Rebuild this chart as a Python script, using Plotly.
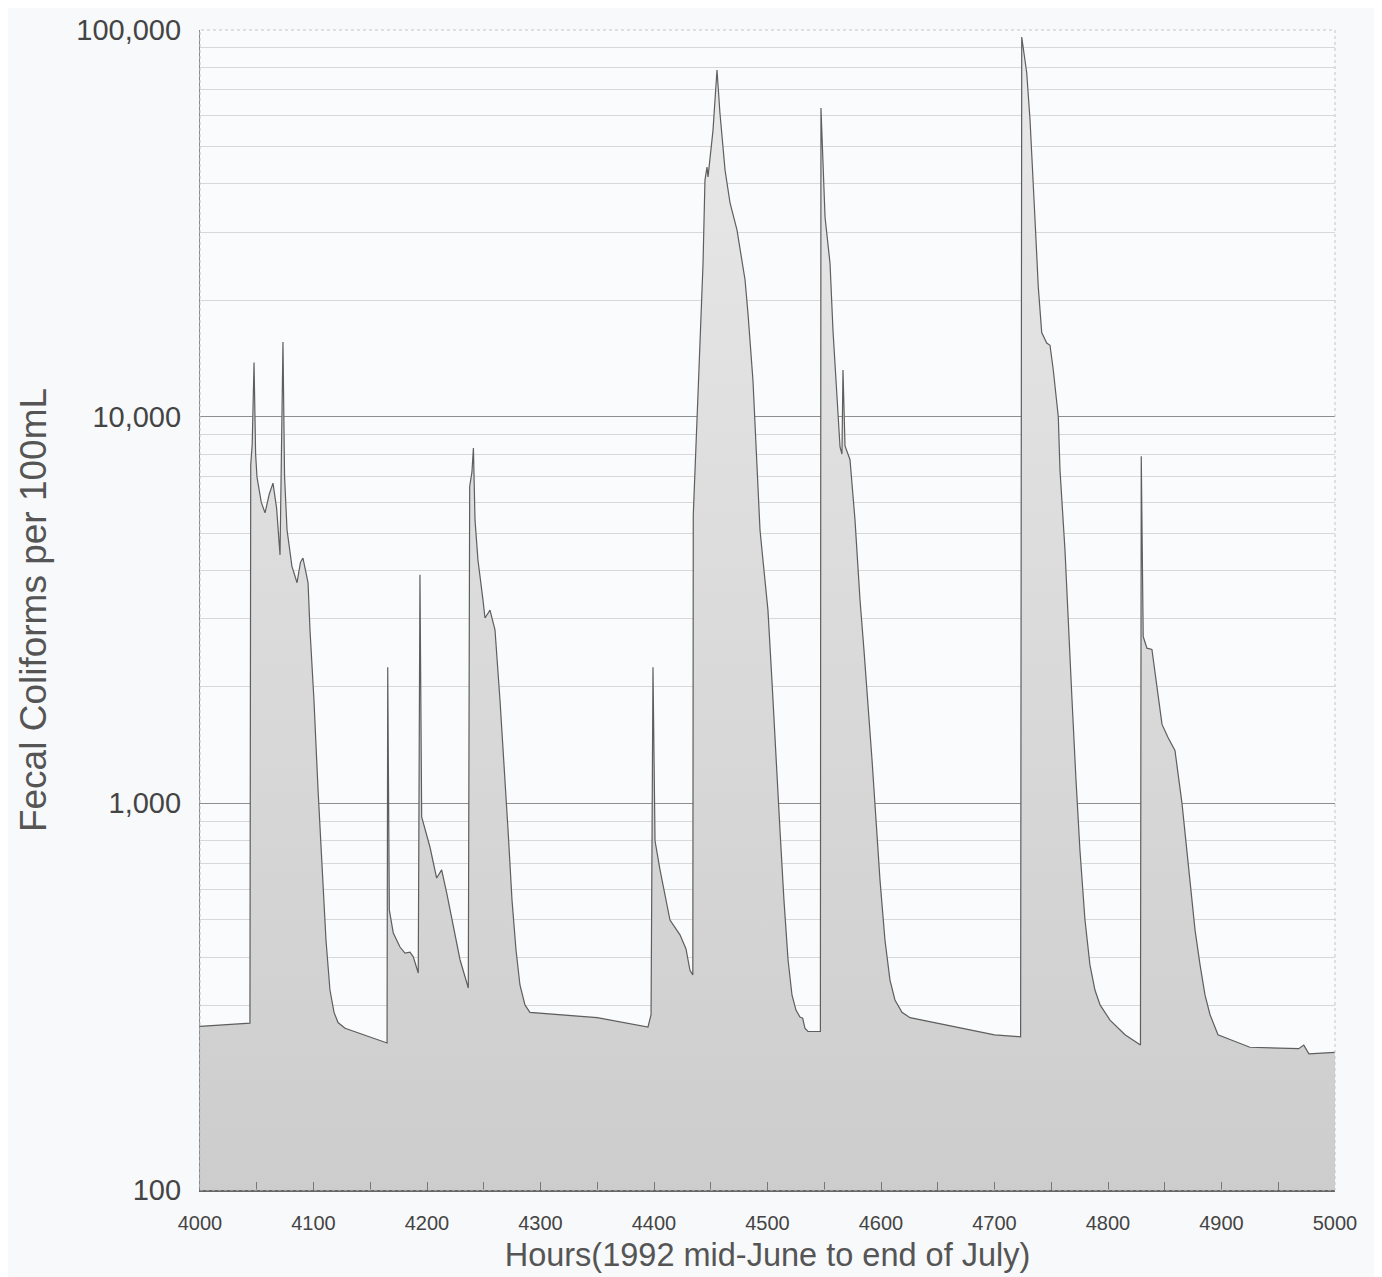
import plotly.graph_objects as go

# hourly fecal coliform counts
hours = [
    4000, 4044, 4044.7, 4046, 4047.6, 4049, 4050.2, 4054, 4057.3, 4061, 4064.3,
    4067.5, 4070.5, 4072, 4073.1, 4074.5, 4076.7, 4081, 4085.5, 4088.5, 4090.7,
    4093, 4095.2, 4096.9, 4100.4, 4104, 4107.5, 4111, 4114.5, 4118.1, 4121.6,
    4127.8, 4164.8,
    4165.4, 4166.8, 4170.3, 4176.2, 4180.6, 4185, 4187.9, 4192.3, 4193.8, 4195.3,
    4202.6, 4208.5, 4212.9, 4217.4, 4223.1, 4226.4, 4229.1, 4236.4, 4237.6,
    4239.6, 4240.9, 4242.3, 4244.9, 4249.3, 4251.1, 4255.5, 4259.9, 4264.3,
    4267.8, 4271.4, 4274.9, 4278.4, 4281.9, 4286.3, 4290.7, 4350, 4394.7,
    4397.4, 4399.1, 4400.9, 4405.3, 4409.7, 4414.1, 4422.9, 4428.2, 4431.7, 4434.2,
    4434.6, 4436.1, 4439.6, 4443.2, 4444.9, 4446.7, 4447.6, 4452, 4455.5, 4458.1,
    4462.6, 4467, 4473.1, 4480.2, 4482.8, 4487.2, 4490.7, 4493.4, 4496, 4500.4,
    4503.9, 4507.5, 4511, 4514.5, 4518.1, 4521.6, 4525.1, 4528.6, 4531, 4533,
    4535.7, 4546.6,
    4547.1, 4550.7, 4555.1, 4557.7, 4561.2, 4563.9, 4565.6, 4566.5, 4568.3,
    4572.7, 4577.1, 4581.5, 4585, 4588.5, 4592.1, 4595.6, 4599.1, 4603.5, 4607.9,
    4612.3, 4618.5, 4625.6, 4700, 4723.0,
    4724, 4728.4, 4731.3, 4735.7, 4738.6, 4741.6, 4746, 4748.9, 4751.8, 4756.2,
    4757.7, 4762.1, 4764.8, 4768.3, 4771.8, 4775.3, 4779.7, 4784.1, 4788.5, 4793,
    4801.8, 4815, 4828.6,
    4829.3, 4831, 4834.3, 4838.7, 4843.2, 4847.6, 4852.9, 4859, 4865.2, 4868.7,
    4872.2, 4876.7, 4881.1, 4885.5, 4889.9, 4896.9, 4907.5, 4925, 4968, 4972.5,
    4977, 5000,
]
coliforms = [
    265, 270, 7500, 8500, 13800, 8000, 6980, 6000, 5640, 6300, 6730,
    5800, 4390, 9100, 15600, 7000, 5090, 4100, 3720, 4200, 4310,
    4000, 3720, 2810, 1850, 1084, 673, 443, 329, 288, 271,
    262, 240,
    2250, 530, 462, 425, 410, 412, 401, 364, 3900, 922,
    771, 641, 673, 586, 479, 430, 394, 333, 6600,
    7200, 8300, 5400, 4260, 3360, 3015, 3160, 2810, 1850,
    1295, 853, 562, 418, 339, 301, 288, 279, 264,
    284, 2250, 800, 673, 580, 499, 457, 420, 370, 360,
    5570, 7000, 13200, 24900, 40900, 44200, 41700, 55100, 78800, 61000,
    43400, 35700, 30400, 22600, 18500, 12400, 7590, 5090, 4260, 3160,
    2080, 1295, 853, 562, 394, 319, 292, 280, 278, 262,
    257, 257,
    62800, 32800, 24900, 16700, 11200, 8350, 8000, 13200, 8400,
    7740, 5400, 3360, 2490, 1850, 1295, 906, 634, 443, 349,
    310, 288, 279, 252, 249,
    95900, 77400, 58500, 32300, 21600, 16500, 15500, 15300, 13200, 10000,
    7280, 4520, 2980, 1850, 1150, 755, 500, 382, 329, 301,
    275, 252, 237,
    7900, 2700, 2520, 2500, 1990, 1600, 1480, 1370, 1000, 803,
    634, 470, 382, 319, 284, 252, 245, 234, 232, 237,
    225, 227,
]

x_ticks = [4000, 4100, 4200, 4300, 4400, 4500, 4600, 4700, 4800, 4900, 5000]
y_ticks = [100, 1000, 10000, 100000]
y_labels = ["100", "1,000", "10,000", "100,000"]
y_minor = [m * d for d in (100, 1000, 10000) for m in range(2, 10)]

fig = go.Figure()

# baseline along the bottom of the log axis so the fill stops there
fig.add_trace(go.Scatter(
    x=[4000, 5000], y=[100, 100], mode="lines",
    line=dict(width=0), hoverinfo="skip", showlegend=False,
))

fig.add_trace(go.Scatter(
    x=hours, y=coliforms, mode="lines",
    line=dict(color="#5e5e5e", width=1.2),
    fill="tonexty",
    fillgradient=dict(type="vertical",
                      colorscale=[[0, "#cdcdcd"], [1, "#e9e9e9"]]),
    showlegend=False,
))

font_family = "Liberation Sans, Arial, sans-serif"

# page body adds ~8px offset, margins are trimmed to keep the plot box in place
fig.update_layout(
    width=1382, height=1277,
    margin=dict(l=192, r=55, t=22, b=95),
    paper_bgcolor="#f8f9fb",
    plot_bgcolor="#fafbfc",
    font=dict(family=font_family, color="#444444"),
    shapes=[dict(type="rect", xref="paper", yref="paper", x0=0, y0=0, x1=1, y1=1,
                 line=dict(color="#c4c4c4", width=1, dash="dot"), layer="above")],
)

fig.update_xaxes(
    range=[4000, 5000],
    tickvals=x_ticks,
    ticks="inside", ticklen=8, tickcolor="#777777",
    minor=dict(dtick=50, tick0=4000, ticks="inside", ticklen=8, tickcolor="#777777"),
    showgrid=False, zeroline=False, automargin=False,
    showline=True, linecolor="#666666", linewidth=1.5,
    tickfont=dict(size=20, color="#444444"),
    ticklabelstandoff=14,
    title=dict(text="Hours(1992 mid-June to end of July)",
               font=dict(size=32.5, color="#555555"), standoff=10),
)

fig.update_yaxes(
    type="log", range=[2, 5],
    tickvals=y_ticks, ticktext=y_labels,
    ticks="",
    showgrid=True, gridcolor="#8e8e8e", gridwidth=1,
    minor=dict(tickvals=y_minor, showgrid=True, gridcolor="#d8d8d8", gridwidth=1, ticks=""),
    zeroline=False, automargin=False,
    showline=True, linecolor="#8a8a8a", linewidth=1.2,
    tickfont=dict(size=29, color="#444444"),
    ticklabelstandoff=12,
    title=dict(text="Fecal Coliforms per 100mL",
               font=dict(size=37, color="#555555"), standoff=18),
)

fig.write_html("out.html")
